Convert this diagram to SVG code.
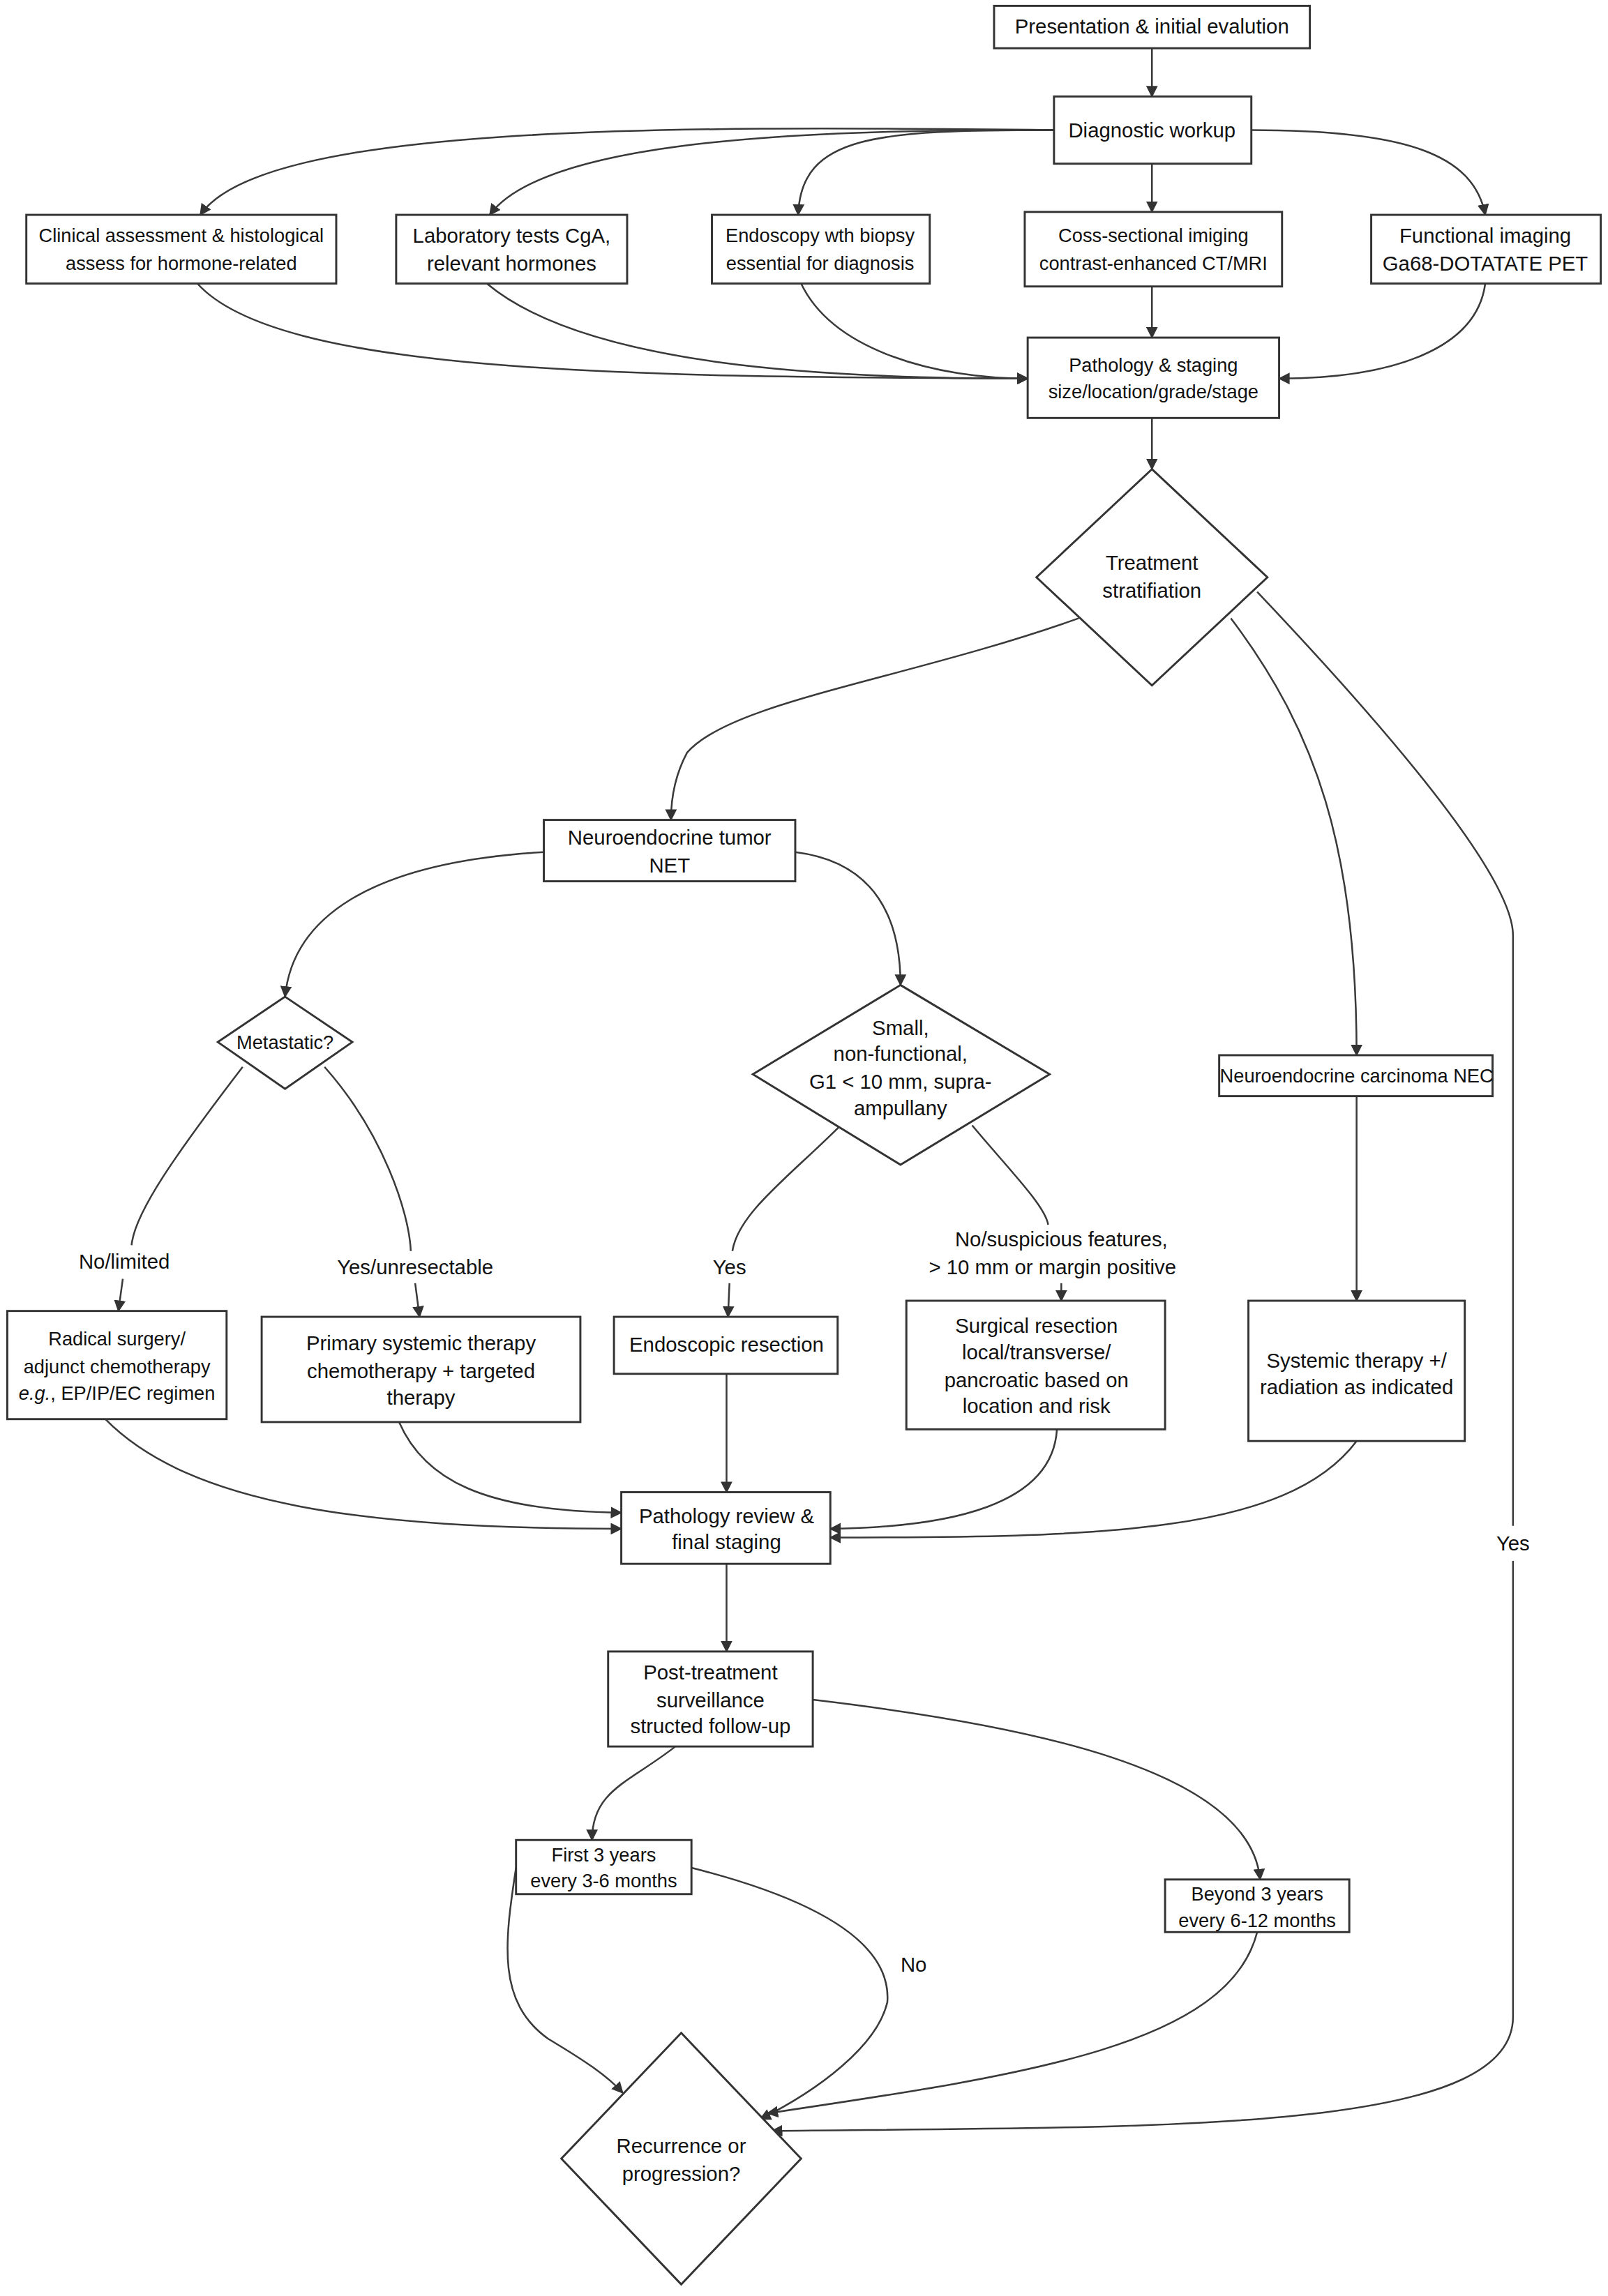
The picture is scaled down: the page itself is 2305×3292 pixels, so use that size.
<svg xmlns="http://www.w3.org/2000/svg" width="2305" height="3292" viewBox="0 0 2305 3292">
<style>
.n rect,.n polygon{fill:#fff;stroke:#333;stroke-width:1.4}
text{font-family:"Liberation Sans",Arial,sans-serif;font-size:14px;fill:#111;text-anchor:middle;dominant-baseline:central}
.s{font-size:13px}
.e path{fill:none;stroke:#3a3a3a;stroke-width:1.2;marker-end:url(#a)}
.e path.nm{marker-end:none}
.lb{fill:#fff}
</style>
<defs><marker id="a" viewBox="0 0 10 10" refX="9" refY="5" markerWidth="8" markerHeight="8" markerUnits="userSpaceOnUse" orient="auto"><path d="M0,0L10,5L0,10z" fill="#333"/></marker></defs>
<rect width="2305" height="3292" fill="#fff"/>
<g transform="scale(2.0955)">
<g class="e">
<path d="M788,33V66"/>
<path d="M721,89C450,86 180,85 137,147"/>
<path d="M721,89C520,88 370,100 335,147"/>
<path d="M721,89C600,89 548,92 546,147"/>
<path d="M788,112V145"/>
<path d="M856,89C960,89 1008,105 1016,147"/>
<path d="M135,194C190,255 420,258 703,259"/>
<path d="M333,194C400,250 560,259 703,259"/>
<path d="M548,194C570,240 640,259 703,259"/>
<path d="M788,196V231"/>
<path d="M1016,194C1010,240 950,259 875,259"/>
<path d="M788,286V321"/>
<path d="M738,423C620,465 500,480 470,515C462,530 459,545 459,561"/>
<path d="M842,423C900,500 928,580 928,722"/>
<path d="M860,405C950,500 1035,600 1035,640L1035,1380C1035,1460 800,1455 528,1458"/>
<path d="M372,583C250,590 200,630 195,682"/>
<path d="M544,583C600,590 616,630 616,674"/>
<path class="nm" d="M166,730C120,790 92,830 90,852"/>
<path d="M84,875L81,897"/>
<path class="nm" d="M222,730C262,775 280,830 281,856"/>
<path d="M284,878L287,901"/>
<path class="nm" d="M575,770C540,805 505,830 501,856"/>
<path d="M499,878L498,901"/>
<path class="nm" d="M665,770C690,800 715,825 717,838"/>
<path d="M726,878V890"/>
<path d="M928,750V890"/>
<path d="M72,971C130,1030 250,1046 425,1046"/>
<path d="M273,973C290,1012 330,1034 425,1035"/>
<path d="M497,940V1021"/>
<path d="M723,978C720,1030 650,1045 568,1046"/>
<path d="M928,986C880,1050 750,1052 568,1052"/>
<path d="M497,1070V1130"/>
<path d="M462,1195C430,1220 405,1225 405,1259"/>
<path d="M556,1163C700,1180 855,1210 862,1286"/>
<path d="M353,1278C345,1330 340,1370 375,1395C400,1410 415,1420 426,1432"/>
<path d="M473,1278C560,1300 610,1330 607,1370C600,1400 560,1430 520,1450"/>
<path d="M860,1322C840,1400 700,1420 525,1446"/>
</g>
<g id="labels">
<text x="85" y="863">No/limited</text>
<text x="284" y="867">Yes/unresectable</text>
<text x="499" y="867">Yes</text>
<text x="726" y="848">No/suspicious features,</text>
<text x="720" y="867">&gt; 10 mm or margin positive</text>
<rect class="lb" x="1020" y="1044" width="30" height="24"/>
<text x="1035" y="1056">Yes</text>
<text x="625" y="1344">No</text>
</g>
<g id="n1" class="n"><rect x="680" y="4" width="216" height="29"/><text x="788" y="18">Presentation &amp; initial evalution</text></g>
<g id="n2" class="n"><rect x="721" y="66" width="135" height="46"/><text x="788" y="89">Diagnostic workup</text></g>
<g id="n3" class="n"><rect x="18" y="147" width="212" height="47"/><text class="s" x="124" y="161">Clinical assessment &amp; histological</text><text class="s" x="124" y="180">assess for hormone-related</text></g>
<g id="n4" class="n"><rect x="271" y="147" width="158" height="47"/><text x="350" y="161">Laboratory tests CgA,</text><text x="350" y="180">relevant hormones</text></g>
<g id="n5" class="n"><rect x="487" y="147" width="149" height="47"/><text class="s" x="561" y="161">Endoscopy wth biopsy</text><text class="s" x="561" y="180">essential for diagnosis</text></g>
<g id="n6" class="n"><rect x="701" y="145" width="176" height="51"/><text class="s" x="789" y="161">Coss-sectional imiging</text><text class="s" x="789" y="180">contrast-enhanced CT/MRI</text></g>
<g id="n7" class="n"><rect x="938" y="147" width="157" height="47"/><text x="1016" y="161">Functional imaging</text><text x="1016" y="180">Ga68-DOTATATE PET</text></g>
<g id="n8" class="n"><rect x="703" y="231" width="172" height="55"/><text class="s" x="789" y="250">Pathology &amp; staging</text><text class="s" x="789" y="268">size/location/grade/stage</text></g>
<g id="n9" class="n"><polygon points="788,321 867,395 788,469 709,395"/><text x="788" y="385">Treatment</text><text x="788" y="404">stratifiation</text></g>
<g id="n10" class="n"><rect x="372" y="561" width="172" height="42"/><text x="458" y="573">Neuroendocrine tumor</text><text x="458" y="592">NET</text></g>
<g id="n11" class="n"><polygon points="195,682 241,713 195,745 149,713"/><text class="s" x="195" y="713">Metastatic?</text></g>
<g id="n12" class="n"><polygon points="616,674 718,735 616,797 515,735"/><text x="616" y="703">Small,</text><text x="616" y="721">non-functional,</text><text x="616" y="740">G1 &lt; 10 mm, supra-</text><text x="616" y="758">ampullany</text></g>
<g id="n13" class="n"><rect x="834" y="722" width="187" height="28"/><text class="s" x="928" y="736">Neuroendocrine carcinoma NEC</text></g>
<g id="n14" class="n"><rect x="5" y="897" width="150" height="74"/><text class="s" x="80" y="916">Radical surgery/</text><text class="s" x="80" y="935">adjunct chemotherapy</text><text class="s" x="80" y="953"><tspan font-style="italic">e.g.</tspan>, EP/IP/EC regimen</text></g>
<g id="n15" class="n"><rect x="179" y="901" width="218" height="72"/><text x="288" y="919">Primary systemic therapy</text><text x="288" y="938">chemotherapy + targeted</text><text x="288" y="956">therapy</text></g>
<g id="n16" class="n"><rect x="420" y="901" width="153" height="39"/><text x="497" y="920">Endoscopic resection</text></g>
<g id="n17" class="n"><rect x="620" y="890" width="177" height="88"/><text x="709" y="907">Surgical resection</text><text x="709" y="925">local/transverse/</text><text x="709" y="944">pancroatic based on</text><text x="709" y="962">location and risk</text></g>
<g id="n18" class="n"><rect x="854" y="890" width="148" height="96"/><text x="928" y="931">Systemic therapy +/</text><text x="928" y="949">radiation as indicated</text></g>
<g id="n19" class="n"><rect x="425" y="1021" width="143" height="49"/><text x="497" y="1037">Pathology review &amp;</text><text x="497" y="1055">final staging</text></g>
<g id="n20" class="n"><rect x="416" y="1130" width="140" height="65"/><text x="486" y="1144">Post-treatment</text><text x="486" y="1163">surveillance</text><text x="486" y="1181">structed follow-up</text></g>
<g id="n21" class="n"><rect x="353" y="1259" width="120" height="37"/><text class="s" x="413" y="1269">First 3 years</text><text class="s" x="413" y="1287">every 3-6 months</text></g>
<g id="n22" class="n"><rect x="797" y="1286" width="126" height="36"/><text class="s" x="860" y="1296">Beyond 3 years</text><text class="s" x="860" y="1314">every 6-12 months</text></g>
<g id="n23" class="n"><polygon points="466,1391 548,1477 466,1563 384,1477"/><text x="466" y="1468">Recurrence or</text><text x="466" y="1487">progression?</text></g>
</g>
</svg>
